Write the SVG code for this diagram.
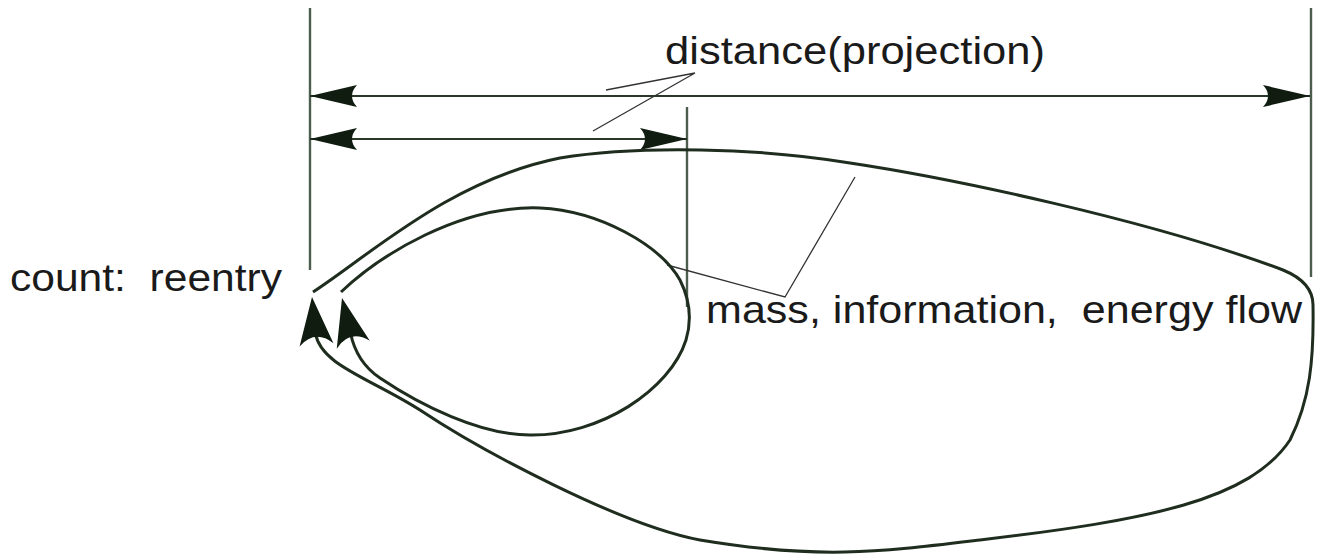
<svg xmlns="http://www.w3.org/2000/svg" xmlns:xlink="http://www.w3.org/1999/xlink" width="1320" height="556" viewBox="0 0 1320 556">
  <style>
    .ext { stroke: #4d5d4d; stroke-width: 2.4; fill: none; }
    .dim { stroke: #2a382a; stroke-width: 2; fill: none; }
    .loop { stroke: #1f2d1f; stroke-width: 3; fill: none; }
    .lead { stroke: #333; stroke-width: 1.3; fill: none; }
    .head { fill: #0f1c0f; }
    text { font-family: "Liberation Sans", Arial, sans-serif; font-size: 39px; fill: #1a1a1a; }
  </style>
  <defs>
    <marker id="dimArrow" markerUnits="userSpaceOnUse" orient="auto-start-reverse" refX="0" refY="0" markerWidth="60" markerHeight="30" viewBox="-50 -15 60 30" overflow="visible">
      <path class="head" d="M0,0 L-47,-11 Q-37,0 -47,11 Z"/>
    </marker>
    <path id="reHead" class="head" d="M0,0 L17,48 Q0,32 -17,48 Z"/>
  </defs>

  <g id="extension-lines">
    <line class="ext" x1="310" y1="8" x2="310" y2="270"/>
    <line class="ext" x1="1311" y1="8" x2="1311" y2="277"/>
    <line class="ext" x1="687" y1="107" x2="687" y2="307"/>
  </g>

  <g id="connectors">
    <path class="dim" d="M310,96 L1310,96" marker-start="url(#dimArrow)" marker-end="url(#dimArrow)"/>
    <path class="dim" d="M310,139 L687,139" marker-start="url(#dimArrow)" marker-end="url(#dimArrow)"/>
    <polyline class="lead" points="606,90 695,73 593,131"/>
    <polyline class="lead" points="667,265 785,297 855,177"/>
  </g>

  <g id="outer-loop">
    <path class="loop" d="M313,292 C370,255 450,180 560,158 C640,145 760,148 850,163 C950,178 1150,220 1283,270 C1300,277 1313,288 1313,305 C1314,360 1310,400 1290,440 C1250,500 1150,520 980,540 C880,552 820,560 700,540 C620,525 480,450 420,410 C370,378 320,365 315.4,332.8"/>
    <use xlink:href="#reHead" transform="translate(312,297) rotate(-5.4)"/>
  </g>

  <g id="inner-loop">
    <path class="loop" d="M341,292 C380,255 460,205 540,208 C600,211 660,245 680,280 C690,300 692,320 686,340 C670,390 600,436 530,435 C480,435 420,405 380,378 C362,366 354,350 350.5,333"/>
    <use xlink:href="#reHead" transform="translate(342,298) rotate(-13.6)"/>
  </g>

  <g id="label-distance">
    <text x="665" y="64" textLength="380" lengthAdjust="spacingAndGlyphs">distance(projection)</text>
  </g>
  <g id="label-flow">
    <text x="706" y="323" textLength="596" lengthAdjust="spacingAndGlyphs" xml:space="preserve">mass, information,  energy flow</text>
  </g>
  <g id="label-count">
    <text x="10" y="291" textLength="272" lengthAdjust="spacingAndGlyphs" xml:space="preserve">count:  reentry</text>
  </g>
</svg>
